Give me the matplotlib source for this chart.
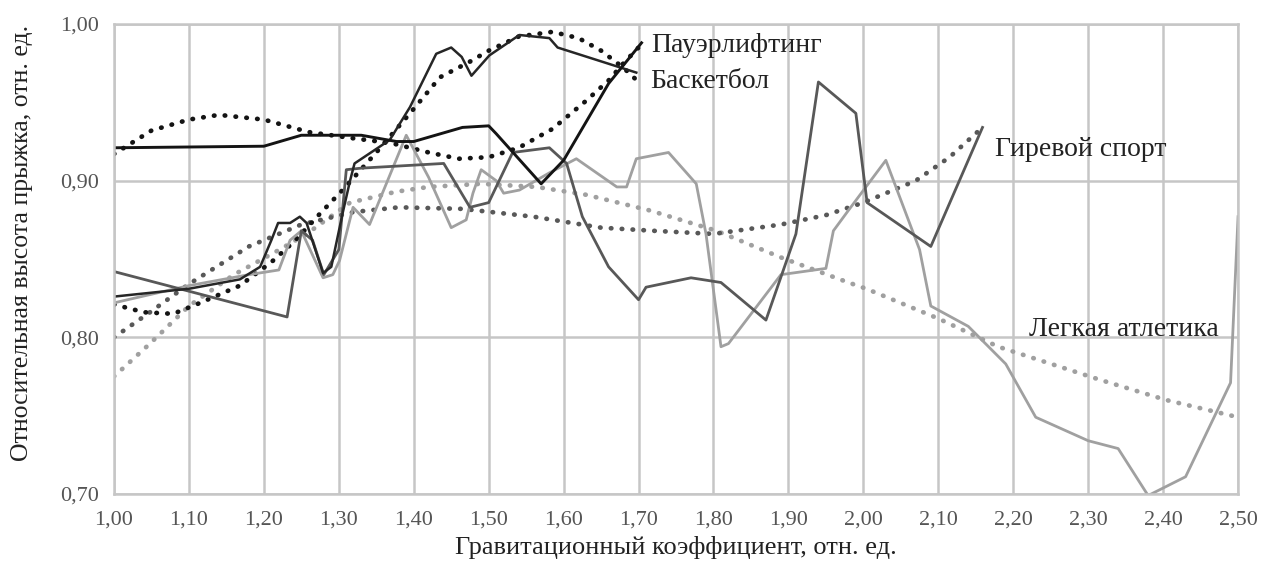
import matplotlib.pyplot as plt
from matplotlib.ticker import FuncFormatter

plt.rcParams['font.family'] = ['Liberation Serif', 'DejaVu Serif']

# Пауэрлифтинг
pl_x = [1.00, 1.20, 1.25, 1.29, 1.33, 1.377, 1.40, 1.465, 1.50, 1.51, 1.57, 1.60, 1.66, 1.704]
pl_y = [0.921, 0.922, 0.929, 0.929, 0.929, 0.925, 0.925, 0.934, 0.935, 0.930, 0.898, 0.913, 0.962, 0.988]
pl_tx = [1.00, 1.05, 1.10, 1.14, 1.20, 1.26, 1.32, 1.37, 1.42, 1.46, 1.50, 1.54, 1.585, 1.63, 1.66, 1.68, 1.70]
pl_ty = [0.917, 0.932, 0.939, 0.942, 0.939, 0.931, 0.927, 0.924, 0.918, 0.914, 0.915, 0.921, 0.933, 0.951, 0.964, 0.975, 0.985]

# Баскетбол
bb_x = [1.00, 1.10, 1.168, 1.195, 1.21, 1.219, 1.235, 1.248, 1.257, 1.279, 1.29, 1.305, 1.315, 1.321,
        1.368, 1.395, 1.43, 1.45, 1.464, 1.477, 1.501, 1.541, 1.581, 1.592, 1.697]
bb_y = [0.826, 0.831, 0.837, 0.845, 0.862, 0.873, 0.873, 0.877, 0.873, 0.841, 0.845, 0.879, 0.900, 0.911,
        0.926, 0.947, 0.981, 0.985, 0.979, 0.967, 0.980, 0.993, 0.991, 0.985, 0.969]
bb_tx = [1.00, 1.04, 1.079, 1.115, 1.168, 1.21, 1.24, 1.275, 1.305, 1.35, 1.395, 1.435, 1.475, 1.50,
         1.54, 1.585, 1.62, 1.65, 1.68, 1.70]
bb_ty = [0.821, 0.816, 0.815, 0.822, 0.833, 0.848, 0.861, 0.879, 0.894, 0.918, 0.943, 0.966, 0.976, 0.983,
         0.992, 0.995, 0.991, 0.983, 0.972, 0.963]

# Гиревой спорт
gs_x = [1.00, 1.231, 1.25, 1.265, 1.28, 1.30, 1.31, 1.33, 1.44, 1.475, 1.50, 1.532, 1.581, 1.604,
        1.625, 1.66, 1.70, 1.71, 1.77, 1.81, 1.87, 1.91, 1.94, 1.99, 2.005, 2.09, 2.159]
gs_y = [0.842, 0.813, 0.868, 0.862, 0.840, 0.856, 0.907, 0.908, 0.911, 0.883, 0.886, 0.918, 0.921, 0.911,
        0.877, 0.845, 0.824, 0.832, 0.838, 0.835, 0.811, 0.866, 0.963, 0.943, 0.886, 0.858, 0.934]
gs_tx = [1.00, 1.048, 1.10, 1.18, 1.25, 1.32, 1.38, 1.465, 1.56, 1.65, 1.72, 1.80, 1.89, 1.95, 2.00,
         2.07, 2.115, 2.159]
gs_ty = [0.800, 0.816, 0.834, 0.858, 0.872, 0.880, 0.883, 0.882, 0.877, 0.870, 0.868, 0.866, 0.872, 0.878,
         0.886, 0.900, 0.915, 0.934]

# Легкая атлетика
la_x = [1.00, 1.10, 1.18, 1.22, 1.235, 1.25, 1.279, 1.292, 1.301, 1.319, 1.341, 1.39, 1.42, 1.45,
        1.47, 1.479, 1.49, 1.51, 1.52, 1.541, 1.581, 1.617, 1.671, 1.684, 1.697, 1.74, 1.777, 1.79,
        1.81, 1.82, 1.89, 1.95, 1.96, 1.98, 2.03, 2.075, 2.09, 2.14, 2.19, 2.23, 2.30, 2.34, 2.38,
        2.43, 2.49, 2.50]
la_y = [0.822, 0.833, 0.840, 0.843, 0.862, 0.868, 0.838, 0.840, 0.849, 0.883, 0.872, 0.929, 0.902, 0.870,
        0.875, 0.892, 0.907, 0.900, 0.892, 0.894, 0.905, 0.914, 0.896, 0.896, 0.914, 0.918, 0.898, 0.866,
        0.794, 0.796, 0.840, 0.844, 0.868, 0.881, 0.913, 0.856, 0.820, 0.807, 0.783, 0.749, 0.734, 0.729, 0.699,
        0.711, 0.771, 0.877]
la_tx = [1.00, 1.048, 1.10, 1.16, 1.221, 1.257, 1.315, 1.377, 1.42, 1.49, 1.564, 1.63, 1.715, 1.804,
         1.89, 1.98, 2.004, 2.10, 2.18, 2.315, 2.404, 2.50]
la_ty = [0.775, 0.796, 0.820, 0.840, 0.856, 0.866, 0.886, 0.893, 0.896, 0.898, 0.896, 0.891, 0.881, 0.868,
         0.851, 0.835, 0.831, 0.812, 0.794, 0.773, 0.760, 0.749]

x_ticks = [1.0 + 0.1 * i for i in range(16)]
y_ticks = [0.70, 0.80, 0.90, 1.00]

black = '#141414'
dark = '#585858'
light = '#a0a0a0'
dots = dict(linestyle=(0, (0.1, 2.2)), dash_capstyle='round', lw=3.4)

fig = plt.figure(figsize=(12.61, 5.72), dpi=100)
ax = fig.add_axes([0.0904, 0.1364, 0.8914, 0.8216])

ax.plot(la_tx, la_ty, color=light, **dots)
ax.plot(gs_tx, gs_ty, color=dark, **dots)
ax.plot(bb_tx, bb_ty, color=black, **dots)
ax.plot(pl_tx, pl_ty, color=black, **dots)

ax.plot(la_x, la_y, color=light, lw=2.0)
ax.plot(gs_x, gs_y, color=dark, lw=2.0)
ax.plot(bb_x, bb_y, color='#262626', lw=1.8)
ax.plot(pl_x, pl_y, color=black, lw=2.1)

ax.set_xlim(1.0, 2.5)
ax.set_ylim(0.70, 1.00)
ax.set_xticks(x_ticks)
ax.set_yticks(y_ticks)
fmt = FuncFormatter(lambda v, p: f'{v:.2f}'.replace('.', ','))
ax.xaxis.set_major_formatter(fmt)
ax.yaxis.set_major_formatter(fmt)
ax.grid(True, color='#c6c6c6', lw=1.8)
ax.set_axisbelow(True)
for s in ax.spines.values():
    s.set_color('#c6c6c6')
    s.set_linewidth(1.8)
ax.tick_params(axis='x', length=0, labelsize=16, labelcolor='#555555', pad=12)
ax.tick_params(axis='y', length=0, labelsize=16, labelcolor='#555555', pad=11)

ax.set_xlabel('Гравитационный коэффициент, отн. ед.', fontsize=19, color='#222222')
ax.set_ylabel('Относительная высота прыжка, отн. ед.', fontsize=18.5, color='#222222')
ax.xaxis.set_label_coords(0.5, -0.089)
ax.yaxis.set_label_coords(-0.072, 0.534)

tkw = dict(fontsize=20, color='#222222', va='center', ha='left')
ax.text(1.717, 0.9866, 'Пауэрлифтинг', **tkw)
ax.text(1.715, 0.963, 'Баскетбол', **tkw)
ax.text(2.175, 0.920, 'Гиревой спорт', **tkw)
ax.text(2.221, 0.805, 'Легкая атлетика', **tkw)

fig.savefig('out.png', dpi=100)
